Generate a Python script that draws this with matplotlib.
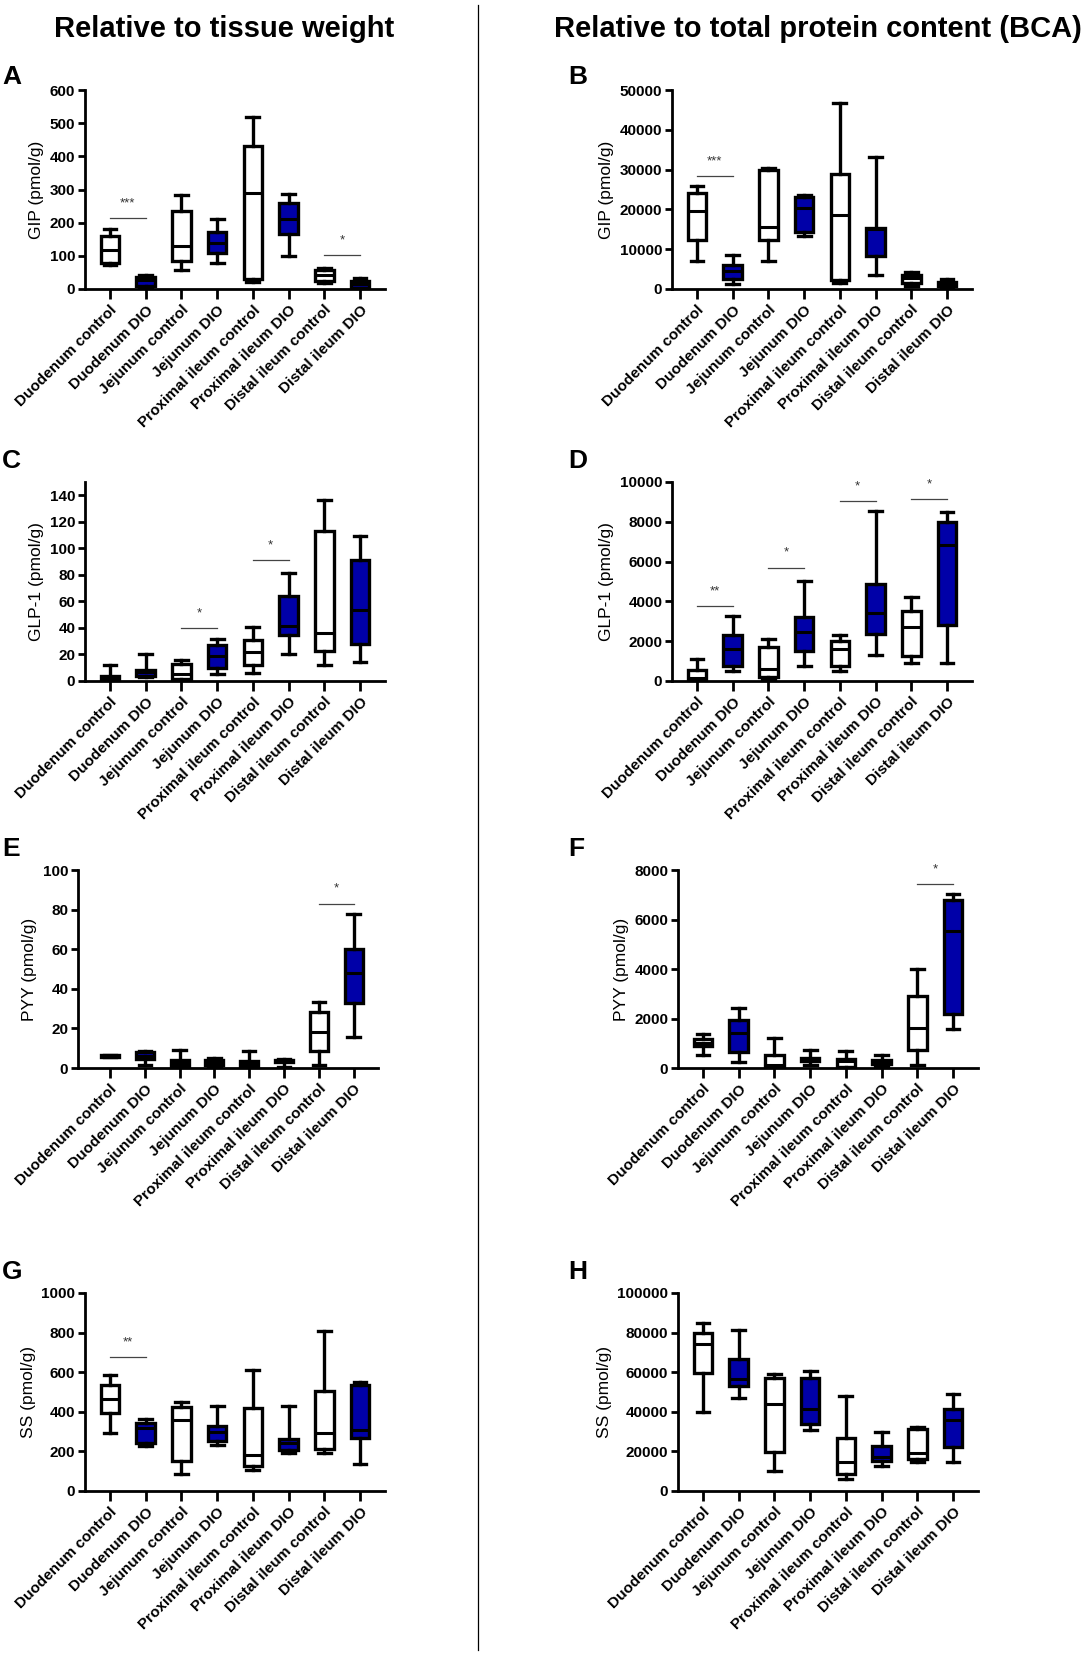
import matplotlib
matplotlib.use("Agg")
import matplotlib.pyplot as plt

plt.rcParams['font.family'] = ['Liberation Sans', 'DejaVu Sans']

W, H = 1092, 1655

groups = ["Duodenum control", "Duodenum DIO", "Jejunum control", "Jejunum DIO",
          "Proximal ileum control", "Proximal ileum DIO", "Distal ileum control",
          "Distal ileum DIO"]

# five-number summaries per group: whisker min, q1, median, q3, whisker max
gip_tissue = [[71, 78, 117, 159, 181], [4, 10, 26, 36, 43], [58, 84, 129, 235, 283],
              [79, 109, 139, 171, 212], [20, 30, 290, 431, 519], [101, 166, 212, 260, 287],
              [18, 23, 42, 57, 62], [2, 4, 15, 24, 33]]
gip_bca = [[7000, 12400, 19500, 24000, 26000], [1300, 2400, 4600, 6000, 8600],
           [7000, 12200, 15600, 29800, 30300], [13300, 14300, 20400, 23000, 23700],
           [1500, 2200, 18500, 28900, 46800], [3600, 8400, 15000, 15400, 33200],
           [800, 1500, 2800, 3600, 4200], [300, 700, 1200, 1800, 2600]]
glp1_tissue = [[0, 0.5, 2, 4, 12], [3, 3.8, 6.5, 8.5, 20], [1, 1.8, 5.5, 13, 15.5],
               [5.5, 9.8, 18.6, 27.4, 32], [6, 12.3, 21.9, 31.2, 40.7],
               [20.6, 35, 41.5, 63.8, 81.7], [12.3, 22.9, 36.4, 112.8, 136.2],
               [14.1, 28.1, 53.3, 91.5, 109.6]]
glp1_bca = [[0, 70, 150, 540, 1130], [490, 740, 1600, 2300, 3260], [80, 200, 590, 1710, 2130],
            [760, 1500, 2440, 3230, 5030], [490, 760, 1630, 2020, 2300],
            [1290, 2340, 3400, 4870, 8520], [920, 1260, 2690, 3510, 4200],
            [900, 2800, 6850, 8000, 8500]]
pyy_tissue = [[5.5, 5.8, 6.1, 6.4, 6.8], [1.7, 4.4, 6.1, 8.1, 8.6], [0.2, 0.8, 2.5, 3.9, 9.3],
              [0.5, 1.7, 2.9, 3.9, 5.2], [0.5, 0.8, 2.5, 3.5, 8.4], [0.5, 2.8, 3.6, 4.0, 4.3],
              [1.3, 8.4, 18.2, 28.3, 33.4], [15.7, 33, 48, 59.9, 78]]
pyy_bca = [[540, 890, 1020, 1157, 1385], [240, 645, 1425, 1950, 2435], [40, 70, 120, 540, 1225],
           [135, 280, 350, 420, 715], [13, 40, 270, 350, 670], [80, 175, 240, 310, 525],
           [110, 715, 1630, 2890, 3980], [1560, 2190, 5550, 6770, 7030]]
ss_tissue = [[295, 394, 466, 534, 588], [227, 243, 320, 345, 365], [88, 152, 357, 424, 450],
             [234, 251, 298, 328, 428], [108, 126, 184, 421, 613], [194, 205, 242, 264, 430],
             [194, 210, 293, 505, 806], [138, 269, 306, 534, 551]]
ss_bca = [[39700, 59500, 74100, 79700, 84800], [47100, 53200, 56600, 66700, 81100],
          [10100, 19800, 43900, 56900, 59000], [30700, 33600, 41200, 57300, 60600],
          [6200, 8400, 14700, 26900, 48000], [12700, 15000, 17200, 22800, 29900],
          [14400, 16000, 19400, 31100, 32400], [14400, 22300, 35800, 41400, 48800]]

# significance bars: (left group, right group, bar height, label)
sig_a = [(0, 1, 214, "***"), (6, 7, 102, "*")]
sig_b = [(0, 1, 28300, "***")]
sig_c = [(2, 3, 40, "*"), (4, 5, 91, "*")]
sig_d = [(0, 1, 3770, "**"), (2, 3, 5700, "*"), (4, 5, 9050, "*"), (6, 7, 9150, "*")]
sig_e = [(6, 7, 83, "*")]
sig_f = [(6, 7, 7440, "*")]
sig_g = [(0, 1, 677, "**")]
sig_h = []

panels = [
    ("A", gip_tissue, "GIP (pmol/g)", 600, 100, sig_a, 85, 90, 289, 77),
    ("B", gip_bca, "GIP (pmol/g)", 50000, 10000, sig_b, 672, 90, 289, 77),
    ("C", glp1_tissue, "GLP-1 (pmol/g)", 150, 20, sig_c, 85, 482, 681, 461),
    ("D", glp1_bca, "GLP-1 (pmol/g)", 10000, 2000, sig_d, 672, 482, 681, 461),
    ("E", pyy_tissue, "PYY (pmol/g)", 100, 20, sig_e, 78, 870, 1068, 849),
    ("F", pyy_bca, "PYY (pmol/g)", 8000, 2000, sig_f, 678, 870, 1068, 849),
    ("G", ss_tissue, "SS (pmol/g)", 1000, 200, sig_g, 85, 1293, 1491, 1272),
    ("H", ss_bca, "SS (pmol/g)", 100000, 20000, sig_h, 678, 1293, 1491, 1272),
]

blue = '#0000a8'

fig = plt.figure(figsize=(W / 100, H / 100), dpi=100)

for letter, data, ylabel, ymax, ystep, sigs, x0, ytop, ybot, lety in panels:
    ax = fig.add_axes([x0 / W, 1 - ybot / H, (385 - 85 if x0 < 500 else 972 - 672) / W,
                       (ybot - ytop) / H])
    stats = []
    for i, (lo, q1, med, q3, hi) in enumerate(data):
        stats.append(dict(whislo=lo, q1=q1, med=med, q3=q3, whishi=hi, fliers=[], label=groups[i]))
    bp = ax.bxp(stats, positions=range(8), widths=0.52, capwidths=0.36, patch_artist=True,
                showfliers=False,
                boxprops=dict(linewidth=2.4, edgecolor='black'),
                whiskerprops=dict(linewidth=2.4, color='black'),
                capprops=dict(linewidth=2.4, color='black'),
                medianprops=dict(linewidth=2.2, color='black'))
    for i, patch in enumerate(bp['boxes']):
        patch.set_facecolor(blue if i % 2 else 'white')
    for a, b, h, lab in sigs:
        ax.plot([a, b], [h, h], color='#444444', lw=0.9, clip_on=False)
        ax.text((a + b) / 2, h + ymax * 0.045, lab, ha='center', va='bottom',
                fontsize=9.5, color='#333333')
    xl = -0.7 if x0 != 78 else -0.92
    ax.set_xlim(xl, 7.7)
    ax.set_ylim(0, ymax)
    top_tick = ymax if ymax != 150 else 140
    ax.set_yticks(range(0, top_tick + 1, ystep))
    ax.set_xticks(range(8))
    ax.set_xticklabels(groups, rotation=45, ha='right', rotation_mode='anchor',
                       fontsize=11, fontweight='bold')
    for t in ax.get_yticklabels():
        t.set_fontweight('bold')
        t.set_fontsize(11)
    ax.set_ylabel(ylabel, fontsize=12.5, labelpad=4)
    for s in ['top', 'right']:
        ax.spines[s].set_visible(False)
    for s in ['left', 'bottom']:
        ax.spines[s].set_linewidth(2.0)
    ax.tick_params(axis='x', length=7, width=2.0, pad=3)
    ax.tick_params(axis='y', length=5, width=2.0, pad=2)
    letx = 2 if x0 < 500 else 568
    fig.text(letx / W, 1 - lety / H, letter,
             fontsize=19, fontweight='bold', va='center', ha='left')

fig.text(224 / W, 1 - 37 / H, "Relative to tissue weight", fontsize=21,
         fontweight='bold', ha='center', va='baseline')
fig.text(554 / W, 1 - 37 / H, "Relative to total protein content (BCA)", fontsize=21,
         fontweight='bold', ha='left', va='baseline')
fig.add_artist(plt.Line2D([478 / W, 478 / W], [1 - 5 / H, 1 - 1650 / H], color='black', lw=0.9))

fig.savefig('out.png', dpi=100)
